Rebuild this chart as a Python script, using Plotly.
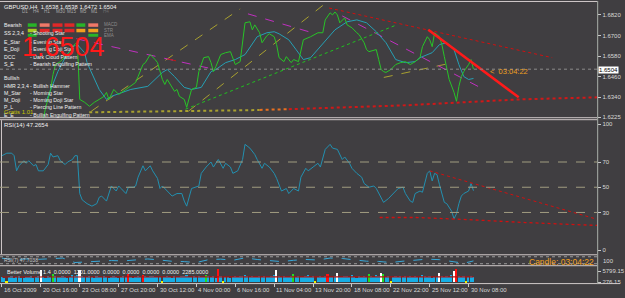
import plotly.graph_objects as go

# ---------------- data ----------------
symbol_line = "GBPUSD,H4  1.6538 1.6538 1.6472 1.6504"
current_price = 1.6504
big_price_text = "1.6504"
countdown = "03:04:22"
rsi14_label = "RSI(14) 47.2654"
rsi7_label = "RSI(7) 47.7038"
volume_label = "Better Volume 1.4  0.0000  1201.0000  0.0000  0.0000  0.0000  0.0000  2285.0000"

date_tick_bars = [0, 16, 32, 48, 64, 80, 96, 112, 128, 144, 160, 176, 192]
date_tick_labels = ["16 Oct 2009", "20 Oct 16:00", "23 Oct 08:00", "27 Oct 20:00",
                    "30 Oct 12:00", "4 Nov 00:00", "6 Nov 16:00", "11 Nov 04:00",
                    "13 Nov 20:00", "18 Nov 08:00", "22 Nov 22:00", "25 Nov 12:00",
                    "30 Nov 08:00"]
price_ticks = [1.6820, 1.6700, 1.6580, 1.6460, 1.6340, 1.6225]
rsi_ticks = [0, 30, 50, 70, 100]
rsi_levels = [30, 50, 70]
volume_ticks = [276.15, 5799.15]

# close price (bar, price)
price_close = [(17,1.6213),(18,1.6282),(20,1.6386),(21,1.6473),(22,1.6531),(24,1.6548),(26,1.6577),
    (28,1.6606),(29,1.6635),(31,1.6664),(32,1.6328),(34,1.6311),(36,1.6288),(38,1.6311),(40,1.6328),
    (42,1.6346),(43,1.6369),(44,1.6328),(46,1.6386),(48,1.6357),(51,1.6386),(53,1.6404),(55,1.6427),
    (56,1.6461),(58,1.6531),(59,1.6542),(61,1.6589),(63,1.6560),(64,1.6542),(66,1.6444),(67,1.6415),
    (68,1.6444),(71,1.6375),(72,1.6386),(73,1.6346),(75,1.6328),(76,1.6282),(78,1.6386),(80,1.6398),
    (81,1.6490),(83,1.6571),(85,1.6577),(86,1.6542),(87,1.6490),(88,1.6519),(90,1.6589),(92,1.6600),
    (94,1.6606),(95,1.6571),(96,1.6531),(98,1.6548),(99,1.6647),(100,1.6774),(102,1.6780),(103,1.6733),
    (104,1.6762),(106,1.6716),(107,1.6658),(109,1.6699),(110,1.6710),(112,1.6693),(113,1.6647),
    (114,1.6571),(116,1.6548),(117,1.6577),(119,1.6542),(120,1.6560),(122,1.6548),(123,1.6618),
    (124,1.6675),(127,1.6693),(130,1.6716),(132,1.6716),(133,1.6791),(135,1.6832),(136,1.6820),
    (137,1.6837),(138,1.6820),(139,1.6774),(141,1.6803),(142,1.6762),(144,1.6745),(146,1.6716),
    (147,1.6704),(149,1.6658),(150,1.6618),(151,1.6606),(154,1.6618),(155,1.6560),(156,1.6502),
    (157,1.6490),(158,1.6485),(160,1.6502),(162,1.6531),(164,1.6542),(166,1.6548),(168,1.6531),
    (170,1.6548),(172,1.6571),(173,1.6635),(175,1.6693),(176,1.6675),(177,1.6635),(178,1.6716),
    (180,1.6693),(181,1.6647),(182,1.6577),(183,1.6502),(184,1.6444),(186,1.6369),(187,1.6317),
    (188,1.6404),(189,1.6461),(190,1.6490),(192,1.6531),(193,1.6560),(194,1.6504)]

# moving average (bar, price)
price_ma = [(18,1.6311),(20,1.6386),(23,1.6490),(26,1.6571),(29,1.6635),(31,1.6647),(34,1.6600),
    (35,1.6542),(40,1.6386),(43,1.6328),(45,1.6346),(53,1.6386),(60,1.6404),(66,1.6485),(68,1.6502),
    (71,1.6461),(75,1.6398),(78,1.6386),(82,1.6398),(86,1.6490),(88,1.6502),(92,1.6542),(96,1.6560),
    (100,1.6589),(102,1.6629),(105,1.6693),(109,1.6716),(112,1.6722),(114,1.6710),(118,1.6675),
    (121,1.6618),(124,1.6560),(127,1.6571),(131,1.6635),(137,1.6733),(142,1.6780),(146,1.6791),
    (150,1.6774),(154,1.6722),(158,1.6658),(162,1.6560),(166,1.6542),(170,1.6548),(172,1.6571),
    (177,1.6600),(180,1.6647),(183,1.6658),(186,1.6618),(188,1.6531),(190,1.6461),(192,1.6444),
    (194,1.6450)]

# RSI(14) (bar, value)
rsi14 = [(0,75),(2,77),(4,77),(5,75),(6,63),(7,67),(9,71),(10,69),(11,71),(13,67),(14,68),(15,63),
    (17,63),(19,68),(20,77),(21,74),(23,75),(24,71),(26,68),(27,70),(29,72),(30,75),(31,75),(32,45),
    (33,40),(35,37),(37,35),(39,37),(40,42),(41,43),(43,39),(44,45),(45,51),(47,47),(48,51),(49,49),
    (51,45),(52,50),(54,50),(55,51),(56,58),(58,67),(59,63),(61,67),(62,63),(64,57),(65,49),(66,51),
    (68,47),(70,43),(72,45),(74,45),(75,39),(76,35),(78,49),(80,50),(81,51),(82,61),(84,66),(86,70),
    (87,66),(89,72),(91,65),(92,69),(94,66),(95,61),(97,63),(99,72),(100,84),(102,81),(104,76),
    (105,72),(107,65),(108,69),(110,66),(112,61),(113,57),(115,47),(117,49),(118,45),(120,49),
    (122,47),(123,58),(125,65),(126,63),(128,66),(130,69),(131,66),(133,80),(135,84),(136,81),
    (138,80),(140,72),(141,74),(143,69),(144,65),(146,61),(148,58),(149,53),(151,50),(153,51),
    (154,49),(156,41),(157,38),(159,41),(161,45),(162,47),(163,49),(165,50),(166,45),(168,39),
    (169,38),(170,45),(172,47),(173,46),(174,53),(175,61),(176,63),(177,55),(178,61),(179,60),
    (180,52),(181,45),(182,38),(183,37),(185,31),(186,25),(187,29),(188,37),(189,43),(190,45),
    (192,47),(193,53),(194,47.27)]

# RSI(7) (collapsed strip)
rsi7_bars = [0,5,10,15,20,25,30,35,40,45,50,55,60,65,70,75,80,85,90,95,100,105,110,115,120,125,
             130,135,140,145,150,155,160,165,170,175,180,185,190,194]
rsi7_vals = [78,62,70,66,72,80,30,35,45,52,48,55,70,58,44,40,30,62,68,55,82,64,50,40,55,64,58,80,
             75,60,45,42,30,45,55,68,62,40,22,47.7]

# volume per bar (bars 0..194)
volume = [2600,2100,700,2800,3100,2400,2900,3300,2500,2200,
          3000,2700,3400,2300,2600,3200,6200,2800,2400,3100,
          2700,4200,3500,2900,2600,3300,3000,2500,2800,3600,
          3100,3900,6400,3500,3000,2700,3200,2900,2400,3100,
          2800,2600,3300,2900,2500,3000,3400,2700,2300,2900,
          3200,2600,4300,3000,2500,2800,3100,2700,4000,3300,
          2800,3200,3500,2900,2600,3000,800,2700,3100,2900,
          2500,3300,3000,2700,3400,3100,3600,2900,2600,3200,
          2800,3400,3000,2600,3900,3100,2700,3300,2500,7000,
          3200,700,2600,3000,2400,2900,3300,2700,3100,3500,
          3800,3200,2900,3400,3000,2600,3100,2800,3300,2700,
          3000,3400,3700,6100,3200,2800,3100,2600,3000,3300,
          4100,2900,3400,3000,2600,3200,3600,2700,3100,750,
          2900,3300,2800,3500,4400,3000,2700,3200,4600,2900,
          2600,3100,3400,2800,3700,3000,2500,3300,2900,3200,
          2700,4200,3500,3000,3600,3100,4800,4300,2900,3300,
          650,3000,3400,2700,3100,2600,3500,2900,3200,2800,
          3400,3000,2600,3700,3100,2800,3300,2500,3000,2900,
          4700,3200,2800,3400,3000,3600,5600,6900,3100,2600,
          3300,700,2900,3100,2700]
vol_white_bars = [16, 32, 113, 138, 156, 180, 186]
vol_red_bars = [52, 58, 89, 134, 187]
vol_green_bars = [21, 84, 120, 151, 157]
vol_yellow_bars = [2, 66, 91, 129, 160, 191]
vol_average = [(0,2850),(50,2800),(100,2900),(150,2950),(194,2900)]

# drawn objects on the price pane (bar, price)
olive_line_a = [(36.7,1.6259),(98,1.6855)]
olive_line_b = [(76.7,1.6259),(133.8,1.6895)]
olive_line_d = [(157.1,1.6456),(185.6,1.6542)]
magenta_line_1 = [(30.6,1.6681),(87.7,1.6502)]
magenta_line_1_red = [(68,1.6564),(75,1.6542)]
magenta_line_2a = [(101.2,1.6826),(127.7,1.6716)]
magenta_line_2b = [(140,1.6814),(198.3,1.6386)]
red_thin_line = [(134.6,1.6860),(226.4,1.6571)]
red_thick_line = [(175.4,1.6733),(212.6,1.6340)]
green_trend = [(75.5,1.6271),(162.4,1.6762)]
support_olive = [(35.9,1.6253),(80.8,1.6259),(101.2,1.6265),(106,1.6267)]
support_orange = [(106,1.6267),(118,1.6271)]
support_red = [(118,1.6271),(166.5,1.6294),(212.6,1.6328),(244.9,1.6340)]
# RSI pane objects (bar, value)
rsi_trend_red = [(176,63),(245,24.5)]
rsi_support_red = [(155.4,26),(170.5,26),(191,24.4),(215.4,22),(245,19.7)]

# candle-pattern panel
timeframes = ["D1", "H4", "H1", "M30", "M15", "M5", "M1", "H4"]
status_names = ["MACD", "STR", "EMA"]
status_grid = [["g", "s", "r", "r", "g", "s"],
               ["y", "r", "r", "r", "o", "o"],
               ["g", "", "", "", "", "g"]]
bear_codes = ["SS 2,3,4", "E_Star", "E_Doji", "DCC", "S_E"]
bear_desc = ["- Shooting Star", "- Evening Star", "- Evening Doji Star",
             "- Dark Cloud Pattern", "- Bearish Engulfing Pattern"]
bull_codes = ["HMR 2,3,4", "M_Star", "M_Doji", "P_L", "E_E"]
bull_desc = ["- Bullish Hammer", "- Morning Star", "- Morning Doji Star",
             "- Piercing Line Pattern", "- Bullish Engulfing Pattern"]

# ---------------- layout constants ----------------
W, H = 625, 298
BG = "#403e41"
FONT = "Liberation Sans, Arial, sans-serif"
S, X0, PR = 2.45, 2.0, 602          # bar spacing px, first bar px, right edge of plot
XR = [-X0 / S, (PR - X0) / S]
AX_COL = "#d8d8d8"


def yp(p):
    return 1 - p / H


def xp(p):
    return p / W


PK = 0.048 / 83.0   # price per pixel
main_range = [1.6820 - (119 - 15) * PK, 1.6820 + (15 - 1) * PK]
RK = 100 / 127.0
rsi_range = [-(256 - 252) * RK, 100 + (125 - 121) * RK]
vol_range = [-226, 7807]

fig = go.Figure()


def add_line(pts, yaxis, color, width=1, dash="solid"):
    fig.add_trace(go.Scatter(x=[p[0] for p in pts], y=[p[1] for p in pts], mode="lines",
                             line=dict(color=color, width=width, dash=dash),
                             xaxis="x", yaxis=yaxis, hoverinfo="skip", showlegend=False))


# price pane
add_line(support_olive, "y", "#a8a030", 2, "dot")
add_line(support_orange, "y", "#e87020", 2, "dot")
add_line(support_red, "y", "#d01818", 2, "dot")
add_line(olive_line_a, "y", "#a8a030", 1, "dash")
add_line(olive_line_b, "y", "#a8a030", 1, "dash")
add_line(olive_line_d, "y", "#a8a030", 1, "dash")
add_line(magenta_line_1, "y", "#c030c0", 1, "dash")
add_line(magenta_line_1_red, "y", "#c01818", 1, "dash")
add_line(magenta_line_2a, "y", "#c030c0", 1, "dash")
add_line(magenta_line_2b, "y", "#c030c0", 1, "dash")
add_line(red_thin_line, "y", "#d01010", 1, "dot")
add_line(green_trend, "y", "#20c020", 1, "dot")
add_line(price_ma, "y", "#26a0b4", 1)
add_line(price_close, "y", "#28c428", 1)
add_line(red_thick_line, "y", "#ff1a1a", 2.5)

# RSI pane
add_line(rsi14, "y2", "#2390b0", 1)
add_line(rsi_trend_red, "y2", "#d01010", 1, "dot")
add_line(rsi_support_red, "y2", "#d01010", 1.3, "dot")

# RSI(7) strip
fig.add_trace(go.Scatter(x=rsi7_bars, y=rsi7_vals, mode="lines",
                         line=dict(color="#3aa8d8", width=1, dash="dash"),
                         xaxis="x", yaxis="y4", hoverinfo="skip", showlegend=False))

# volume pane
col_map = {}
for b in vol_white_bars:
    col_map[b] = "#ffffff"
for b in vol_red_bars:
    col_map[b] = "#ff1010"
for b in vol_green_bars:
    col_map[b] = "#22e022"
for b in vol_yellow_bars:
    col_map[b] = "#f0f000"
vol_colors = [col_map.get(i, "#14aee6") for i in range(len(volume))]
fig.add_trace(go.Bar(x=list(range(len(volume))), y=volume, marker=dict(color=vol_colors, line=dict(width=0)),
                     width=0.7, xaxis="x", yaxis="y3", hoverinfo="skip", showlegend=False))
add_line(vol_average, "y3", "#b01010", 1.2)

# ---------------- shapes ----------------
shapes = []


def hline_px(y, x0=0, x1=PR, color="#cfc8c8", width=1, dash="solid"):
    shapes.append(dict(type="line", xref="paper", yref="paper", x0=xp(x0), x1=xp(x1),
                       y0=yp(y), y1=yp(y), line=dict(color=color, width=width, dash=dash)))


hline_px(1.5)
hline_px(118.5)
hline_px(120.5)
hline_px(256.5)
hline_px(258.5, color="#9a9a9a", dash="dot")
hline_px(265.5, color="#9a9a9a", dash="dot")
hline_px(267.5)
hline_px(285.5, x1=W)
shapes.append(dict(type="line", xref="paper", yref="paper", x0=xp(PR + 0.5), x1=xp(PR + 0.5),
                   y0=yp(1), y1=yp(286), line=dict(color="#a8b0a8", width=1)))
shapes.append(dict(type="line", xref="paper", yref="paper", x0=xp(1.5), x1=xp(1.5),
                   y0=yp(121), y1=yp(256), line=dict(color="#cfc8c8", width=1)))
# current price line
shapes.append(dict(type="line", xref="paper", yref="y", x0=0, x1=xp(PR), y0=current_price,
                   y1=current_price, line=dict(color="#8c8c8c", width=1, dash="dot")))
for lv in rsi_levels:
    shapes.append(dict(type="line", xref="paper", yref="y2", x0=0, x1=xp(PR), y0=lv, y1=lv,
                       line=dict(color="#a09c80", width=1, dash="dash")))

# status blocks
blk_cols = {"g": "#28b428", "s": "#f07868", "r": "#e02828", "o": "#f0a020", "y": "#a8c820"}
col_x = [(28, 37), (40, 50), (53, 63), (65, 75), (77, 86), (89, 99)]
row_y = [(23.5, 27), (29, 32.5), (34, 37)]
for ri, row in enumerate(status_grid):
    for ci, c in enumerate(row):
        if c:
            shapes.append(dict(type="rect", xref="paper", yref="paper", x0=xp(col_x[ci][0]),
                               x1=xp(col_x[ci][1]), y0=yp(row_y[ri][1]), y1=yp(row_y[ri][0]),
                               fillcolor=blk_cols[c], line=dict(width=0)))

# ---------------- annotations ----------------
ann = []


def txt(x, y, s, size=6, color="#f0f0f0", xanchor="left", **kw):
    d = dict(x=xp(x), y=yp(y), xref="paper", yref="paper", text=s, showarrow=False,
             xanchor=xanchor, yanchor="middle", font=dict(size=size, color=color, family=FONT))
    d.update(kw)
    ann.append(d)


txt(2, 7, symbol_line, 5.8)
tf_x = [20, 31, 42, 54, 66, 79, 90, 102]
for i, t in enumerate(timeframes):
    txt(tf_x[i], 12, t, 4.6, "#a8a8a8" if i < 7 else "#6c6c6c")
for i, t in enumerate(status_names):
    txt(103, [25, 30.5, 35.5][i], t, 4.5, "#8c8c8c")
txt(2, 25, "Bearish", 5.2)
bear_y = [33, 42, 49, 57, 64]
for i in range(5):
    txt(2, bear_y[i], bear_codes[i], 5.2)
    txt(28, bear_y[i], bear_desc[i], 5.2)
txt(2, 79, "Bullish", 5.2)
bull_y = [87, 94, 101, 108, 116]
for i in range(5):
    txt(2, bull_y[i], bull_codes[i], 5.2)
    txt(28, bull_y[i], bull_desc[i], 5.2)
txt(2, 113, "Gratis 1.01", 6, "#c8c400")
txt(20, 47, big_price_text, 27, "#ff1a1a")
txt(492, 72, "<  " + countdown, 7.5, "#f0a020")
txt(PR + 1, 70, "1.6504", 6, "#000000", bgcolor="#ffffff", borderpad=0)
txt(2, 126, rsi14_label, 6)
txt(2, 262, rsi7_label, 5, "#c8c8c8")
txt(PR + 4, 263, "100", 6, AX_COL)
txt(531, 264, "Candle: " + countdown, 8.5, "#f0a020")
txt(5, 274, volume_label, 5.5)
for b, lab in zip(date_tick_bars, date_tick_labels):
    ann.append(dict(x=b, y=yp(292), xref="x", yref="paper", text=lab, showarrow=False,
                    xanchor="left", yanchor="middle", xshift=0,
                    font=dict(size=6, color=AX_COL, family=FONT)))

axis_common = dict(showgrid=False, zeroline=False, showline=False, fixedrange=True)
tickfont = dict(size=6, color=AX_COL, family=FONT)
fig.update_layout(
    width=W, height=H, margin=dict(l=0, r=0, t=0, b=0),
    paper_bgcolor=BG, plot_bgcolor=BG, showlegend=False, bargap=0,
    font=dict(family=FONT, color=AX_COL),
    xaxis=dict(domain=[0, xp(PR)], range=XR, anchor="y3", tickmode="array",
               tickvals=date_tick_bars, showticklabels=False, ticks="outside", ticklen=3,
               tickcolor="#c8c8c8", **axis_common),
    yaxis=dict(domain=[yp(119), yp(1)], range=main_range, side="right", anchor="x",
               tickmode="array", tickvals=price_ticks, ticktext=[f"{v:.4f}" for v in price_ticks],
               ticks="outside", ticklen=3, tickcolor="#c8c8c8", tickfont=tickfont, **axis_common),
    yaxis2=dict(domain=[yp(256), yp(121)], range=rsi_range, side="right", anchor="x",
                tickmode="array", tickvals=rsi_ticks, ticktext=[str(v) for v in rsi_ticks],
                ticks="outside", ticklen=3, tickcolor="#c8c8c8", tickfont=tickfont, **axis_common),
    yaxis3=dict(domain=[yp(285), yp(269)], range=vol_range, side="right", anchor="x",
                tickmode="array", tickvals=volume_ticks, ticktext=["276.15", "5799.15"],
                ticks="outside", ticklen=3, tickcolor="#c8c8c8", tickfont=tickfont, **axis_common),
    yaxis4=dict(domain=[yp(267), yp(258)], range=[0, 100], side="right", anchor="x",
                showticklabels=False, **axis_common),
    shapes=shapes, annotations=ann,
)

fig.write_html("out.html")
